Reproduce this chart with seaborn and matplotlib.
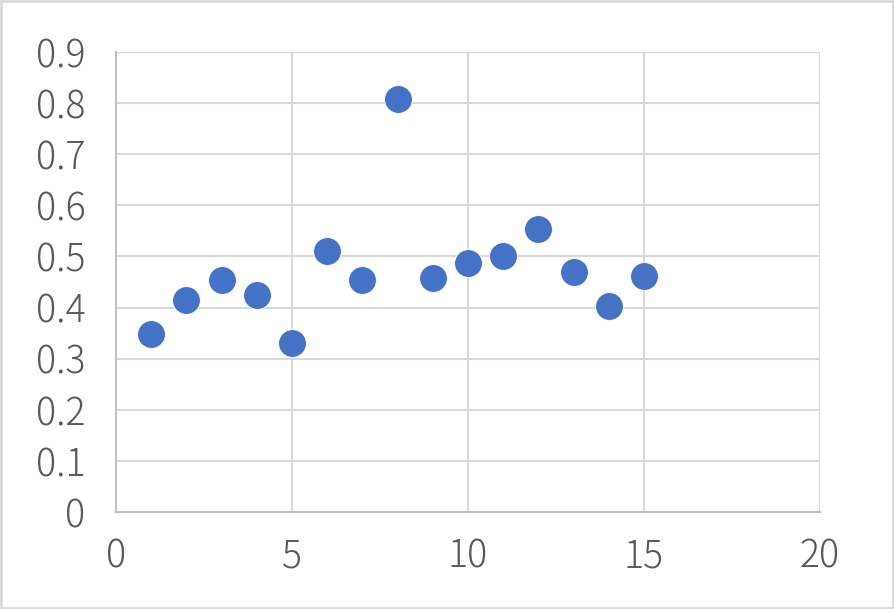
import matplotlib
matplotlib.use("Agg")
import matplotlib.pyplot as plt
import seaborn as sns
import pandas as pd
from matplotlib.patches import Rectangle

x_values = [1, 2, 3, 4, 5, 6, 7, 8, 9, 10, 11, 12, 13, 14, 15]
y_values = [0.349, 0.415, 0.454, 0.425, 0.331, 0.511, 0.454, 0.809,
            0.457, 0.488, 0.501, 0.554, 0.470, 0.403, 0.462]
x_ticks = [0, 5, 10, 15, 20]
y_ticks = [0, 0.1, 0.2, 0.3, 0.4, 0.5, 0.6, 0.7, 0.8, 0.9]
y_tick_labels = ["0", "0.1", "0.2", "0.3", "0.4", "0.5", "0.6", "0.7", "0.8", "0.9"]

df = pd.DataFrame({"x": x_values, "y": y_values})

sns.set_style("white")
plt.rcParams["font.family"] = ["Noto Sans CJK JP", "DejaVu Sans"]

fig = plt.figure(figsize=(8.94, 6.09), dpi=100)
ax = fig.add_axes([116 / 894, 1 - 512 / 609, (820 - 116) / 894, (512 - 52) / 609])

grid_c = "#d9d9d9"
for xt in x_ticks[1:]:
    ax.axvline(xt, color=grid_c, lw=1.5, zorder=0)
for yt in y_ticks[1:]:
    ax.axhline(yt, color=grid_c, lw=1.5, zorder=0)

sns.scatterplot(data=df, x="x", y="y", ax=ax, s=400, color="#4472C4",
                edgecolor="white", linewidth=0.6, zorder=3, legend=False)

ax.set_xlim(0, 20)
ax.set_ylim(0, 0.9)
ax.set_xticks(x_ticks)
ax.set_xticklabels([str(t) for t in x_ticks])
ax.set_yticks(y_ticks)
ax.set_yticklabels(y_tick_labels)
ax.set_xlabel("")
ax.set_ylabel("")
ax.tick_params(axis="both", length=0, labelsize=27, labelcolor="#595959")
for lab in ax.get_xticklabels() + ax.get_yticklabels():
    lab.set_fontweight("light")
ax.tick_params(axis="y", pad=22)
ax.tick_params(axis="x", pad=18)

for side in ["top", "right"]:
    ax.spines[side].set_visible(False)
for side in ["left", "bottom"]:
    ax.spines[side].set_color("#bfbfbf")
    ax.spines[side].set_linewidth(1.5)

fig.patches.append(Rectangle((0.001, 0.001), 0.998, 0.998, transform=fig.transFigure,
                             fill=False, edgecolor="#d9d9d9", linewidth=2))

fig.savefig("out.png", dpi=100, facecolor="white")
